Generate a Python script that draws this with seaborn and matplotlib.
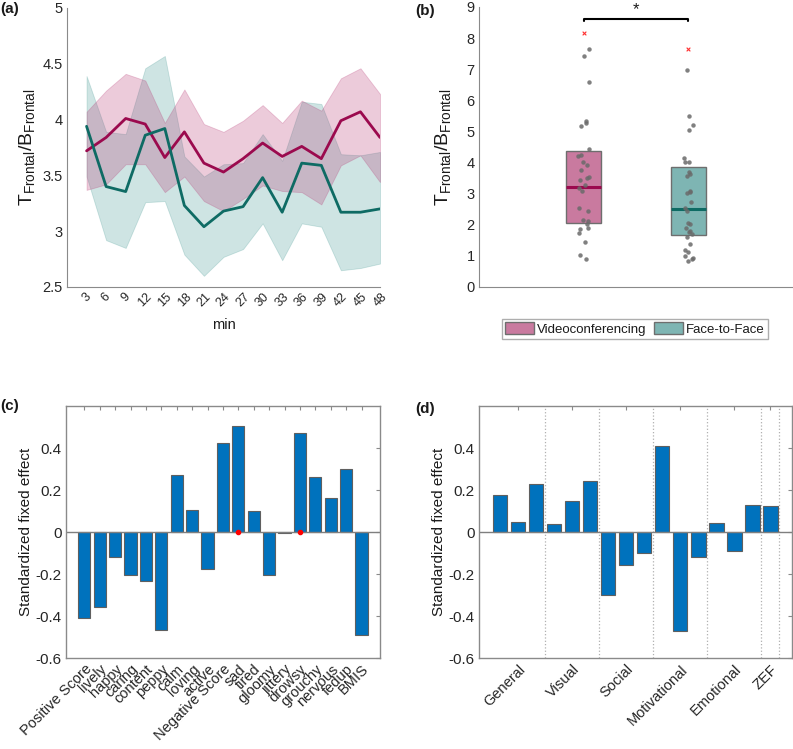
"""
plot.py - four-panel figure: frontal theta/beta ratio over time (a),
per-condition ratio boxes (b) and standardized fixed effects (c, d).
"""

import matplotlib
matplotlib.use("Agg")  # no display

import numpy as np
import pandas as pd
import matplotlib.pyplot as plt
import seaborn as sns
from matplotlib.patches import Patch

# ---------------- data ----------------
# (a) ratio per 3-min window, mean and band for each condition
minutes = [3, 6, 9, 12, 15, 18, 21, 24, 27, 30, 33, 36, 39, 42, 45, 48]
vc_mean = [3.72, 3.84, 4.01, 3.96, 3.66, 3.89, 3.61, 3.53, 3.65, 3.79, 3.67, 3.76, 3.65, 3.99, 4.07, 3.84]
vc_upper = [4.07, 4.26, 4.41, 4.35, 3.97, 4.27, 3.96, 3.89, 3.99, 4.13, 3.97, 4.17, 4.08, 4.37, 4.46, 4.23]
vc_lower = [3.37, 3.42, 3.60, 3.60, 3.35, 3.49, 3.27, 3.18, 3.29, 3.41, 3.36, 3.35, 3.24, 3.59, 3.68, 3.44]
ftf_mean = [3.94, 3.40, 3.355, 3.86, 3.92, 3.23, 3.04, 3.18, 3.22, 3.48, 3.17, 3.61, 3.59, 3.17, 3.17, 3.20]
ftf_upper = [4.39, 3.89, 3.87, 4.46, 4.57, 3.67, 3.49, 3.60, 3.61, 3.87, 3.63, 4.16, 4.14, 3.69, 3.68, 3.71]
ftf_lower = [3.49, 2.92, 2.85, 3.26, 3.27, 2.79, 2.60, 2.77, 2.84, 3.07, 2.74, 3.07, 3.04, 2.65, 2.67, 2.71]

# (b) per-participant ratios
conditions = ["Videoconferencing", "Face-to-Face"]
vc_points = [7.64, 7.42, 6.59, 5.27, 5.32, 5.19, 4.44, 4.22, 4.25, 4.02, 3.93, 3.75, 3.49,
             3.55, 3.44, 3.27, 3.19, 3.09, 2.55, 2.44, 2.15, 2.11, 2.04, 1.91, 1.88, 1.74,
             1.45, 1.04, 0.90]
ftf_points = [6.96, 5.51, 5.22, 5.04, 4.16, 4.03, 4.01, 3.70, 3.64, 3.57, 3.09, 3.03, 3.05,
              2.72, 2.55, 2.45, 2.06, 2.03, 1.89, 1.77, 1.81, 1.70, 1.62, 1.39, 1.18, 1.14,
              0.99, 0.92, 0.85, 0.89]
outliers = [8.18, 7.64]
box_q1 = [2.06, 1.66]
box_med = [3.23, 2.50]
box_q3 = [4.36, 3.85]

# (c) mood items
mood_labels = ["Positive Score", "lively", "happy", "caring", "content", "peppy", "calm",
               "loving", "active", "Negative Score", "sad", "tired", "gloomy", "jittery",
               "drowsy", "grouchy", "nervous", "fedup", "BMIS"]
mood_effects = [-0.408, -0.356, -0.120, -0.203, -0.233, -0.465, 0.272, 0.104, -0.174,
                0.424, 0.506, 0.098, -0.205, -0.003, 0.471, 0.261, 0.162, 0.299, -0.491]
mood_marked = ["sad", "drowsy"]

# (d) ZEF fatigue items, grouped
zef_effects = [0.178, 0.047, 0.227, 0.036, 0.146, 0.243, -0.299, -0.156, -0.102,
               0.411, -0.471, -0.120, 0.043, -0.091, 0.129, 0.123]
zef_groups = ["General", "Visual", "Social", "Motivational", "Emotional", "ZEF"]
zef_group_sizes = [3, 3, 3, 3, 3, 1]

# ---------------- style ----------------
sns.set_style("white")
plt.rcParams["font.family"] = ["Liberation Sans", "DejaVu Sans"]
plt.rcParams["mathtext.fontset"] = "custom"
plt.rcParams["mathtext.rm"] = "Liberation Sans"
plt.rcParams["mathtext.it"] = "Liberation Sans:italic"
plt.rcParams["text.color"] = "#1a1a1a"
plt.rcParams["axes.labelcolor"] = "#1a1a1a"
plt.rcParams["xtick.color"] = "#262626"
plt.rcParams["ytick.color"] = "#262626"

VC_LINE = "#9B0A4E"
FTF_LINE = "#0E6B64"
VC_BOX = "#C97A9F"
FTF_BOX = "#7EB5B3"
BAR = "#0072BD"
AX_GRAY = "#8a8a8a"

W, H = 793, 749
fig = plt.figure(figsize=(W / 100, H / 100), dpi=100)


def rect(left, top, right, bottom):
    """pixel box -> figure fraction rect"""
    return [left / W, 1 - bottom / H, (right - left) / W, (bottom - top) / H]


ax_a = fig.add_axes(rect(67, 8, 380, 287))
ax_b = fig.add_axes(rect(479, 7, 793, 287))
ax_c = fig.add_axes(rect(66, 406, 380, 658))
ax_d = fig.add_axes(rect(479, 406, 792, 658))

ratio_label = r"$\mathrm{T_{Frontal}/B_{Frontal}}$"

# ---------------- (a) ----------------
ax_a.fill_between(minutes, ftf_lower, ftf_upper, color="#3E9590", alpha=0.25,
                  edgecolor="#3E9590", linewidth=0.6)
ax_a.fill_between(minutes, vc_lower, vc_upper, color="#B5306E", alpha=0.25,
                  edgecolor="#B5306E", linewidth=0.6)
sns.lineplot(x=minutes, y=vc_mean, color=VC_LINE, linewidth=2, ax=ax_a)
sns.lineplot(x=minutes, y=ftf_mean, color=FTF_LINE, linewidth=2, ax=ax_a)
ax_a.set_xlim(0, 48)
ax_a.set_ylim(2.5, 5)
ax_a.set_xticks(minutes)
ax_a.set_xticklabels([str(m) for m in minutes], rotation=45, ha="center", fontsize=9)
ax_a.set_yticks([2.5, 3, 3.5, 4, 4.5, 5])
ax_a.set_yticklabels(["2.5", "3", "3.5", "4", "4.5", "5"], fontsize=10.5)
ax_a.set_xlabel("min", fontsize=10.5, labelpad=6)
ax_a.set_ylabel(ratio_label, fontsize=14, labelpad=4)

# ---------------- (b) ----------------
np.random.seed(4)  # jitter only
strip_df = pd.DataFrame({
    "condition": [conditions[0]] * len(vc_points) + [conditions[1]] * len(ftf_points),
    "ratio": vc_points + ftf_points,
})
stats = []
for i in range(2):
    stats.append({"med": box_med[i], "q1": box_q1[i], "q3": box_q3[i],
                  "whislo": box_q1[i], "whishi": box_q3[i], "fliers": []})
bp = ax_b.bxp(stats, positions=[0, 1], widths=0.335, patch_artist=True,
              showcaps=False, showfliers=False, manage_ticks=False,
              boxprops=dict(edgecolor="#6e6e6e", linewidth=1),
              whiskerprops=dict(linewidth=0),
              medianprops=dict(linewidth=2.2))
for patch, fc in zip(bp["boxes"], [VC_BOX, FTF_BOX]):
    patch.set_facecolor(fc)
for med, lc in zip(bp["medians"], [VC_LINE, FTF_LINE]):
    med.set_color(lc)
sns.stripplot(data=strip_df, x="condition", y="ratio", order=conditions, jitter=0.05,
              size=3.2, color="#6a6a6a", alpha=0.85, linewidth=0, ax=ax_b, zorder=4)
ax_b.scatter([0, 1], outliers, marker="x", color="#ff3030", s=7, linewidths=0.8, zorder=5)
# significance bracket
ax_b.plot([0, 0, 1, 1], [8.55, 8.63, 8.63, 8.55], color="black", linewidth=1.5)
ax_b.text(0.5, 8.66, "*", ha="center", va="bottom", fontsize=12)
ax_b.set_xlim(-1, 2)
ax_b.set_ylim(0, 9)
ax_b.set_xticks([])
ax_b.set_xlabel("")
ax_b.set_yticks(range(10))
ax_b.tick_params(axis="y", labelsize=10.5)
ax_b.set_ylabel(ratio_label, fontsize=14, labelpad=10)

for ax in (ax_a, ax_b):
    sns.despine(ax=ax)
    for side in ("left", "bottom"):
        ax.spines[side].set_color(AX_GRAY)
    ax.tick_params(direction="in", length=3, color=AX_GRAY, pad=3)

fig.legend(handles=[Patch(facecolor=VC_BOX, edgecolor="#6e6e6e", label=conditions[0]),
                    Patch(facecolor=FTF_BOX, edgecolor="#6e6e6e", label=conditions[1])],
           loc="center", bbox_to_anchor=(635 / W, 1 - 329 / H), ncol=2, fontsize=9.5,
           frameon=True, fancybox=False, edgecolor="#9a9a9a", handlelength=2.2,
           handleheight=1.0, handletextpad=0.2, columnspacing=0.6, borderpad=0.25,
           borderaxespad=0)

# ---------------- (c) ----------------
sns.barplot(x=mood_labels, y=mood_effects, color=BAR, saturation=1, width=0.8,
            edgecolor="#5f5f5f", linewidth=0.8, errorbar=None, ax=ax_c)
marked_x = [mood_labels.index(m) for m in mood_marked]
ax_c.plot(marked_x, [0] * len(marked_x), "o", color="red", markersize=3, zorder=5)
ax_c.set_xlim(-1.19, len(mood_labels) + 0.2)
ax_c.set_xticks(range(len(mood_labels)))
ax_c.set_xticklabels(mood_labels, rotation=45, ha="right", va="top",
                     rotation_mode="anchor", fontsize=10.5)

# ---------------- (d) ----------------
zef_x = list(range(len(zef_effects)))
sns.barplot(x=zef_x, y=zef_effects, color=BAR, saturation=1, width=0.8,
            edgecolor="#5f5f5f", linewidth=0.8, errorbar=None, ax=ax_d)
group_ends = np.cumsum(zef_group_sizes)
group_starts = group_ends - np.array(zef_group_sizes)
group_centers = group_starts + (np.array(zef_group_sizes) - 1) / 2
for end in group_ends:
    ax_d.axvline(end - 0.5, color="#b0b0b0", linestyle=":", linewidth=0.9, zorder=0)
ax_d.set_xlim(-1.17, len(zef_effects) + 0.2)
ax_d.set_xticks(group_centers)
ax_d.set_xticklabels(zef_groups, rotation=45, ha="right", va="top",
                     rotation_mode="anchor", fontsize=10.5)

for ax in (ax_c, ax_d):
    ax.axhline(0, color="#7f7f7f", linewidth=1, zorder=1)
    ax.set_ylim(-0.6, 0.6)
    ax.set_yticks([-0.6, -0.4, -0.2, 0, 0.2, 0.4])
    ax.set_yticklabels(["-0.6", "-0.4", "-0.2", "0", "0.2", "0.4"])
    ax.tick_params(axis="y", labelsize=11)
    ax.tick_params(direction="in", length=3, color=AX_GRAY, top=True, right=True, pad=3)
    for side in ax.spines.values():
        side.set_visible(True)
        side.set_color(AX_GRAY)
        side.set_linewidth(1)
    ax.set_ylabel("Standardized fixed effect", fontsize=11, labelpad=2)

# panel letters
fig.text(0 / W, 1 - 9 / H, "(a)", fontsize=11, fontweight="bold", va="center")
fig.text(415 / W, 1 - 11 / H, "(b)", fontsize=11, fontweight="bold", va="center")
fig.text(0 / W, 1 - 406 / H, "(c)", fontsize=11, fontweight="bold", va="center")
fig.text(415 / W, 1 - 409 / H, "(d)", fontsize=11, fontweight="bold", va="center")

fig.savefig("out.png", dpi=100)
plt.close(fig)
